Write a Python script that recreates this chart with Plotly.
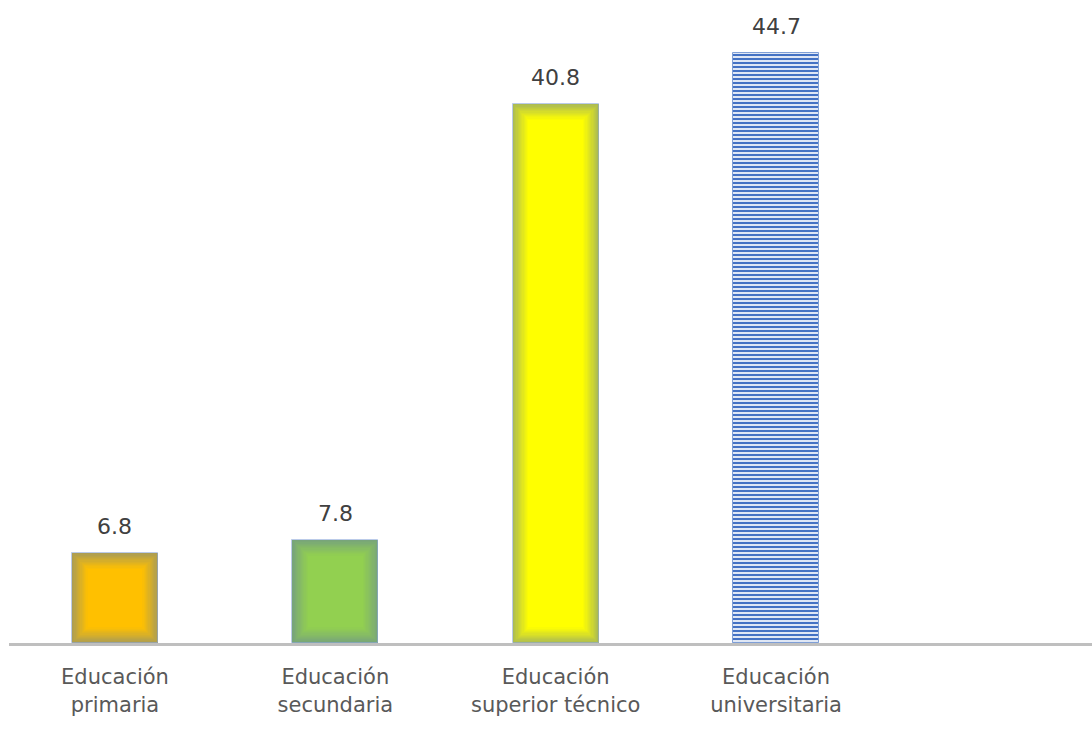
import plotly.graph_objects as go

# Education level categories and their values (%)
categories = ["Educación<br>primaria", "Educación<br>secundaria",
              "Educación<br>superior técnico", "Educación<br>universitaria"]
values = [6.8, 7.8, 40.8, 44.7]
value_labels = ["6.8", "7.8", "40.8", "44.7"]

# Fill colours for the three solid bars
solid_colors = ["#ffc000", "#92d050", "#ffff00"]
edge_tint = (96, 125, 160)

# Axis geometry
x_range = [-0.481, 4.434]
y_range = [0, 48]
margin = dict(l=9, r=0, t=9, b=88)
width_px, height_px = 1092, 731
px_per_x = (width_px - margin["l"] - margin["r"]) / (x_range[1] - x_range[0])
px_per_y = (height_px - margin["t"] - margin["b"]) / (y_range[1] - y_range[0])

bar_width = 0.39


def hex_to_rgb(h):
    h = h.lstrip("#")
    return tuple(int(h[i:i + 2], 16) for i in (0, 2, 4))


def blend(c, t, f):
    return "rgb(%d,%d,%d)" % tuple(round(a * (1 - f) + b * f) for a, b in zip(c, t))


fig = go.Figure()

# Solid bars drawn as nested layers so the edges shade softly into the fill
n_layers = 14
step_px = 1.2
xs = list(range(len(solid_colors)))
for k in range(n_layers):
    f = 0.52 * (1 - k / (n_layers - 1)) ** 1.1
    inset_x = 2 * k * step_px / px_per_x
    inset_y = k * step_px / px_per_y
    fig.add_trace(go.Bar(
        x=xs,
        y=[v - 2 * inset_y for v in values[:3]],
        base=[inset_y] * 3,
        width=bar_width - inset_x,
        marker=dict(color=[blend(hex_to_rgb(c), edge_tint, f) for c in solid_colors],
                    line=dict(width=0)),
        hoverinfo="skip",
        showlegend=False,
    ))

# Thin light-blue outline of the solid bars
fig.add_trace(go.Bar(
    x=xs, y=values[:3], width=bar_width,
    marker=dict(color="rgba(0,0,0,0)", line=dict(color="rgba(142,169,219,0.6)", width=1)),
    hoverinfo="skip", showlegend=False,
))

# Striped bar for university education
fig.add_trace(go.Bar(
    x=[3], y=[values[3]], width=bar_width,
    marker=dict(
        color="#4472c4",
        pattern=dict(shape="-", fgcolor="#4472c4", bgcolor="#dfe7f5",
                     size=4, solidity=0.5, fillmode="replace"),
        line=dict(color="#7f9fd6", width=1),
    ),
    hoverinfo="skip", showlegend=False,
))

# Value labels above each bar
for i, (v, t) in enumerate(zip(values, value_labels)):
    fig.add_annotation(x=i, y=v, text=t, showarrow=False, yanchor="bottom",
                       yshift=12, font=dict(family="DejaVu Sans", size=22, color="#404040"))

fig.update_layout(
    width=width_px, height=height_px,
    margin=margin,
    barmode="overlay",
    bargap=0,
    plot_bgcolor="white", paper_bgcolor="white",
    xaxis=dict(
        range=x_range,
        tickvals=list(range(len(categories))),
        ticktext=categories,
        showgrid=False, zeroline=False,
        showline=True, linecolor="#bfbfbf", linewidth=3,
        ticks="", ticklabelstandoff=13,
        tickfont=dict(family="DejaVu Sans", size=21, color="#595959"),
    ),
    yaxis=dict(range=y_range, visible=False, showgrid=False, zeroline=False),
)

fig.write_html("out.html")
